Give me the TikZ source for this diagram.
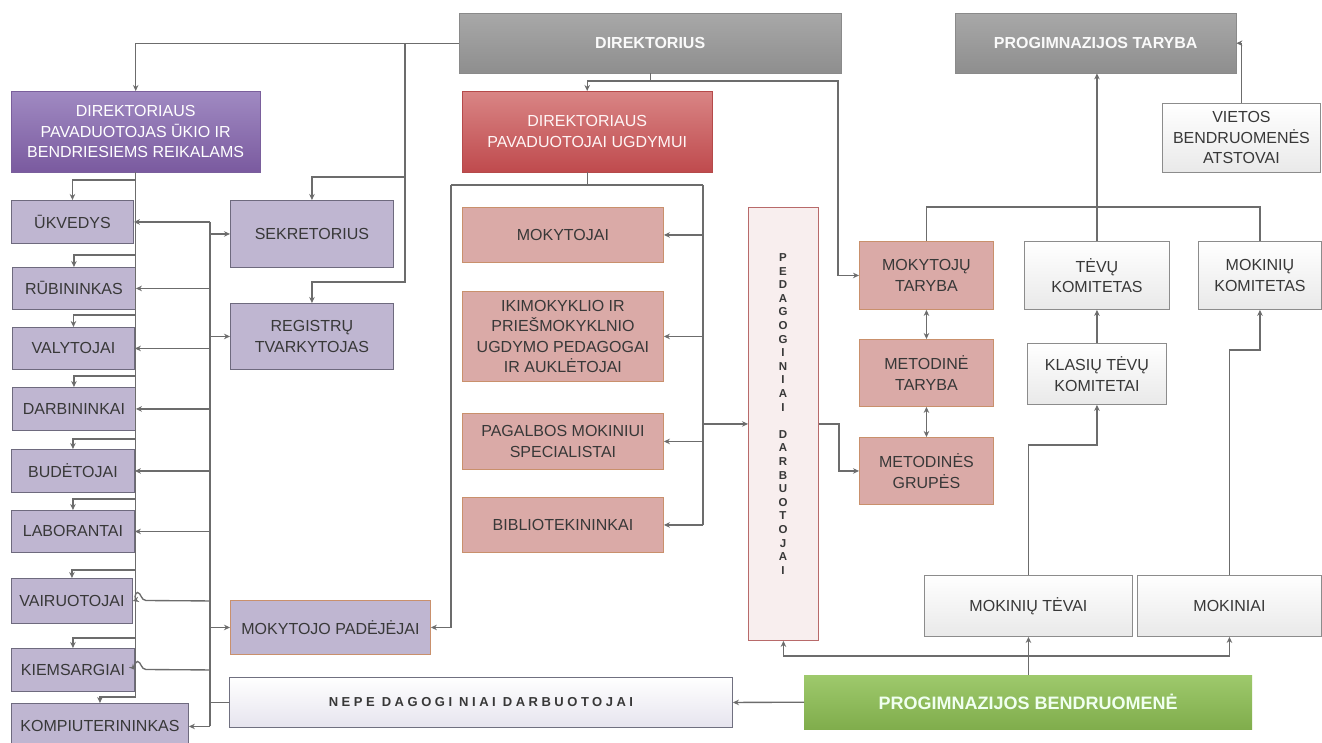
\documentclass[tikz,border=0pt]{standalone}
\usepackage{fontspec}
\setmainfont{Liberation Sans}
\usetikzlibrary{arrows.meta,shadings}
\definecolor{lc}{HTML}{6C6C6C}
\definecolor{grayt}{HTML}{A8A8A8}
\definecolor{graybot}{HTML}{8E8E8E}
\definecolor{grayb}{HTML}{8A8A8A}
\definecolor{purt}{HTML}{A08AC2}
\definecolor{purbot}{HTML}{7A5A9F}
\definecolor{purb}{HTML}{7A5F9C}
\definecolor{lavf}{HTML}{BFB6D1}
\definecolor{lavb}{HTML}{6E6A7E}
\definecolor{redt}{HTML}{D98585}
\definecolor{redbot}{HTML}{BF4A4D}
\definecolor{redb}{HTML}{B54A4A}
\definecolor{pinkf}{HTML}{DAAAA7}
\definecolor{pinkb}{HTML}{C9906C}
\definecolor{pedf}{HTML}{F8EEEE}
\definecolor{pedb}{HTML}{B86A6A}
\definecolor{wbot}{HTML}{E9E9E9}
\definecolor{wb}{HTML}{8C8C8C}
\definecolor{nepbot}{HTML}{E6E4EE}
\definecolor{nepb}{HTML}{707080}
\definecolor{greent}{HTML}{9EC96C}
\definecolor{greenbot}{HTML}{80AD4C}
\definecolor{txt}{HTML}{383838}
\begin{document}
\begin{tikzpicture}[x=1pt,y=-1pt,
  every node/.style={inner sep=0pt, anchor=north west, align=center, text=txt,
    font=\fontsize{16}{20.5}\selectfont},
  grayhdr/.style={draw=grayb, top color=grayt, bottom color=graybot, text=white!96!gray,
    font=\fontsize{16}{20}\selectfont\bfseries},
  purhdr/.style={draw=purb, top color=purt, bottom color=purbot, text=white},
  lav/.style={draw=lavb, fill=lavf, line width=0.9pt},
  redhdr/.style={draw=redb, top color=redt, bottom color=redbot, text=white!96!red},
  pink/.style={draw=pinkb, fill=pinkf, line width=0.9pt},
  wbox/.style={draw=wb, top color=white, bottom color=wbot, line width=0.9pt},
  greenhdr/.style={draw=none, top color=greent, bottom color=greenbot, text=white!94!green,
    font=\fontsize{18}{22}\selectfont\bfseries},
  conn/.style={draw=lc, line width=1.35pt},
  arr/.style={conn, -{Stealth[length=6pt,width=5.5pt]}},
  arrb/.style={conn, {Stealth[length=6pt,width=5.5pt]}-{Stealth[length=6pt,width=5.5pt]}}]
\useasboundingbox (0,0) rectangle (1322,742);
\clip (0,0) rectangle (1322,742);
\fill[white] (0,0) rectangle (1322,742);

% top row
\node[grayhdr, minimum width=382pt, minimum height=60pt] (dir) at (459,13) {DIREKTORIUS};
\node[grayhdr, minimum width=281pt, minimum height=60pt] (ptar) at (955,13) {PROGIMNAZIJOS TARYBA};
\node[wbox, minimum width=158pt, minimum height=69pt] (viet) at (1162,103) {VIETOS\\BENDRUOMENĖS\\ATSTOVAI};

% headers
\node[purhdr, minimum width=249pt, minimum height=81pt] (pavu) at (11,91) {DIREKTORIAUS\\PAVADUOTOJAS ŪKIO IR\\BENDRIESIEMS REIKALAMS};
\node[redhdr, minimum width=250pt, minimum height=81pt] (pavg) at (462,91) {DIREKTORIAUS\\PAVADUOTOJAI UGDYMUI};

% left column
\node[lav, minimum width=122pt, minimum height=43pt] (ukv) at (11,200) {ŪKVEDYS};
\node[lav, minimum width=123pt, minimum height=42pt] (rub) at (12,267) {RŪBININKAS};
\node[lav, minimum width=122pt, minimum height=42pt] (val) at (12,327) {VALYTOJAI};
\node[lav, minimum width=123pt, minimum height=43pt] (darb) at (12,387) {DARBININKAI};
\node[lav, minimum width=123pt, minimum height=43pt] (bud) at (11,449) {BUDĖTOJAI};
\node[lav, minimum width=123pt, minimum height=42pt] (lab) at (11,510) {LABORANTAI};
\node[lav, minimum width=121pt, minimum height=45pt] (vair) at (11,578) {VAIRUOTOJAI};
\node[lav, minimum width=123pt, minimum height=43pt] (kiem) at (11,648) {KIEMSARGIAI};
\node[lav, minimum width=177pt, minimum height=46pt] (komp) at (11,703) {KOMPIUTERININKAS};

% second column
\node[lav, minimum width=163pt, minimum height=67pt] (sek) at (230,200) {SEKRETORIUS};
\node[lav, minimum width=163pt, minimum height=66pt] (reg) at (230,303) {REGISTRŲ\\TVARKYTOJAS};
\node[lav, draw=pinkb, minimum width=200pt, minimum height=54pt] (mpad) at (230,600) {MOKYTOJO PADĖJĖJAI};
\node[draw=nepb, top color=white, bottom color=nepbot, line width=0.9pt, minimum width=503pt, minimum height=50pt,
  font=\fontsize{13}{15}\selectfont\bfseries\addfontfeature{LetterSpace=27}] (nep) at (229,677) {NEPE DAGOGI NIAI DARBUOTOJAI};

% pedagogical column
\node[pink, minimum width=201pt, minimum height=55pt] (mok) at (462,207) {MOKYTOJAI};
\node[pink, minimum width=201pt, minimum height=90pt] (iki) at (462,291) {IKIMOKYKLIO IR\\PRIEŠMOKYKLNIO\\UGDYMO PEDAGOGAI\\IR AUKLĖTOJAI};
\node[pink, minimum width=201pt, minimum height=56pt] (pag) at (462,413) {PAGALBOS MOKINIUI\\SPECIALISTAI};
\node[pink, minimum width=201pt, minimum height=55pt] (bib) at (462,497) {BIBLIOTEKININKAI};

\node[draw=pedb, fill=pedf, line width=0.9pt, minimum width=70pt, minimum height=433pt] (ped) at (748,207) {};
\node[anchor=center, font=\fontsize{11.5}{13.6}\selectfont\bfseries] (pedtxt) at (783,414)
  {P\\E\\D\\A\\G\\O\\G\\I\\N\\I\\A\\I\\~\\D\\A\\R\\B\\U\\O\\T\\O\\J\\A\\I};

\node[pink, minimum width=134pt, minimum height=68pt] (mtar) at (859,241) {MOKYTOJŲ\\TARYBA};
\node[pink, minimum width=134pt, minimum height=67pt] (metar) at (859,339) {METODINĖ\\TARYBA};
\node[pink, minimum width=134pt, minimum height=67pt] (mgrp) at (859,437) {METODINĖS\\GRUPĖS};

% right side
\node[wbox, minimum width=145pt, minimum height=68pt] (tkom) at (1024,241) {TĖVŲ\\KOMITETAS};
\node[wbox, minimum width=123pt, minimum height=68pt] (mkom) at (1198,241) {MOKINIŲ\\KOMITETAS};
\node[wbox, minimum width=139pt, minimum height=61pt] (klas) at (1027,343) {KLASIŲ TĖVŲ\\KOMITETAI};
\node[wbox, minimum width=208pt, minimum height=61pt] (mtev) at (924,575) {MOKINIŲ TĖVAI};
\node[wbox, minimum width=184pt, minimum height=61pt] (mokn) at (1137,575) {MOKINIAI};
\node[greenhdr, minimum width=448pt, minimum height=54pt] (bend) at (804,675) {PROGIMNAZIJOS BENDRUOMENĖ};

% helper coordinates
\coordinate (j1) at (405,43);
\coordinate (j2) at (405,177);
\coordinate (j3) at (405,282);
\coordinate (d1) at (0,81);
\coordinate (d2) at (838,81);
\coordinate (r1) at (0,185);
\coordinate (rl) at (451,185);
\coordinate (rr) at (703,185);
\coordinate (p1) at (839,0);
\coordinate (hb) at (0,207);
\coordinate (y445) at (0,445);
\coordinate (y350) at (0,350);
\coordinate (y656) at (0,656);
\coordinate (v) at (210,0);
\coordinate (pv) at (135.5,0);
\coordinate (y698) at (0,698);

% director connectors
\draw[arr] (dir.west) -| (pavu.north);
\draw[arr] (j1) -- (j2) -| (sek.north);
\draw[arr] (j2) -- (j3) -| (reg.north);
\draw[arr] (dir.south) -- (dir.south |- d1) -| (pavg.north);
\draw[arr] (dir.south |- d1) -- (d2) |- (mtar.west);

% deputy for education
\draw[conn] (pavg.south) -- (pavg.south |- r1);
\draw[conn] (rl) -- (rr);
\draw[arr] (rl) |- (mpad.east);
\draw[conn] (rr) -- (rr |- bib.east);
\draw[arr] (rr |- mok.east) -- (mok.east);
\draw[arr] (rr |- iki.east) -- (iki.east);
\draw[arr] (rr |- pag.east) -- (pag.east);
\draw[arr] (rr |- bib.east) -- (bib.east);
\draw[arr] (rr |- ped.west) -- (ped.west);
\draw[arr] (ped.east) -- (ped.east -| p1) |- (mgrp.west);
\draw[arrb] (mtar.south) -- (metar.north);
\draw[arrb] (metar.south) -- (mgrp.north);

% council
\draw[conn] (mtar.north) -- (mtar.north |- hb) -- (mkom.north |- hb) -- (mkom.north);
\draw[arr] (tkom.north) -- (tkom.north |- ptar.south);
\draw[arr] (viet.north) |- (ptar.east);
\draw[arr] (klas.north) -- (klas.north |- tkom.south);
\draw[arr] (mtev.north) -- (mtev.north |- y445) -| (klas.south);
\draw[arr] (mokn.north) -- (mokn.north |- y350) -| (mkom.south);

% community
\draw[arr] (bend.north -| mtev.south) -- (mtev.south);
\draw[arr] (mtev.south |- y656) -| (ped.south);
\draw[arr] (mtev.south |- y656) -| (mokn.south);
\draw[arr] (bend.west) -- (nep.east);

% deputy for economy: vertical with branches
\draw[conn] (pavu.south) -- (pavu.south |- y698);
\draw[arr] (ukv.north -| pv) ++(0,-20) -| (ukv.north);
\draw[arr] (rub.north -| pv) ++(0,-12) -| (rub.north);
\draw[arr] (val.north -| pv) ++(0,-12) -| (val.north);
\draw[arr] (darb.north -| pv) ++(0,-11) -| (darb.north);
\draw[arr] (bud.north -| pv) ++(0,-10) -| (bud.north);
\draw[arr] (lab.north -| pv) ++(0,-11) -| (lab.north);
\draw[arr] (vair.north -| pv) ++(0,-8) -| (vair.north);
\draw[arr] (kiem.north -| pv) ++(0,-10) -| (kiem.north);
\draw[arr] (komp.north -| pv) ++(0,-6) -| (komp.north);

% non-pedagogical staff bus
\draw[conn] (nep.west) -- (nep.west -| v);
\draw[conn] (v |- ukv.east) -- (v |- komp.east);
\draw[arr] (v |- ukv.east) -- (ukv.east);
\draw[arr] (v |- rub.east) -- (rub.east);
\draw[arr] (v |- val.east) -- (val.east);
\draw[arr] (v |- darb.east) -- (darb.east);
\draw[arr] (v |- bud.east) -- (bud.east);
\draw[arr] (v |- lab.east) -- (lab.east);
\draw[arr] (v |- vair.east) -- (146,600.5) .. controls (141,600.5) and (141,592.5) .. (137.5,592.5) .. controls (134.5,592.5) and (134.5,600.5) .. (vair.east);
\draw[arr] (v |- kiem.east) -- (146,669.5) .. controls (141,669.5) and (141,661.5) .. (137.5,661.5) .. controls (134.5,661.5) and (134.5,669.5) .. (kiem.east);
\draw[arr] (v |- komp.east) -- (komp.east);
\draw[arr] (v |- sek.west) -- (sek.west);
\draw[arr] (v |- reg.west) -- (reg.west);
\draw[arr] (v |- mpad.west) -- (mpad.west);
\end{tikzpicture}
\end{document}
